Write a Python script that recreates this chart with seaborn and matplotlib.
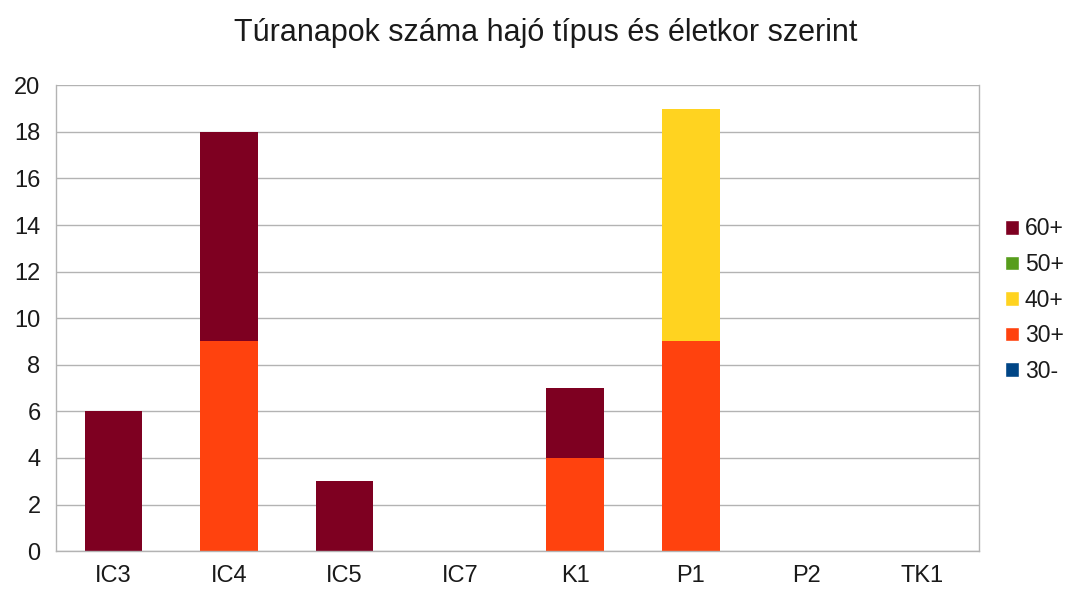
import numpy as np
import pandas as pd
import matplotlib
matplotlib.use("Agg")
import matplotlib.pyplot as plt
import seaborn as sns
from matplotlib.patches import Patch

# data
boats = ["IC3", "IC4", "IC5", "IC7", "K1", "P1", "P2", "TK1"]
age_groups = ["30-", "30+", "40+", "50+", "60+"]   # bottom -> top
days_30minus = [0, 0, 0, 0, 0, 0, 0, 0]
days_30plus = [0, 9, 0, 0, 4, 9, 0, 0]
days_40plus = [0, 0, 0, 0, 0, 10, 0, 0]
days_50plus = [0, 0, 0, 0, 0, 0, 0, 0]
days_60plus = [6, 9, 3, 0, 3, 0, 0, 0]
colors = {"30-": "#004586", "30+": "#ff420e", "40+": "#ffd320",
          "50+": "#579d1c", "60+": "#7e0021"}

series = [days_30minus, days_30plus, days_40plus, days_50plus, days_60plus]
cum = np.cumsum(np.array(series), axis=0)

sns.set_style("white")
plt.rcParams["font.family"] = ["Liberation Sans", "DejaVu Sans"]

fig = plt.figure(figsize=(10.75, 5.92), dpi=100)
ax = fig.add_axes([0.052, 0.069, 0.859, 0.787])

# draw cumulative totals from the top layer down so lower layers overlay
for i in range(len(age_groups) - 1, -1, -1):
    df = pd.DataFrame({"boat": boats, "days": cum[i]})
    sns.barplot(data=df, x="boat", y="days", order=boats, color=colors[age_groups[i]],
                width=0.5, saturation=1, linewidth=0, ax=ax)

ax.set_ylim(0, 20)
ax.set_xlim(-0.5, len(boats) - 0.5)
ax.set_yticks(range(0, 21, 2))
ax.yaxis.grid(True, color="#b3b3b3", linewidth=1)
ax.set_axisbelow(True)
ax.set_xlabel("")
ax.set_ylabel("")
for s in ax.spines.values():
    s.set_color("#b3b3b3")
    s.set_linewidth(1)
ax.spines["top"].set_visible(False)

ax.set_xticks(np.arange(-0.5, len(boats), 1.0), minor=True)
ax.tick_params(axis="x", which="minor", length=10, color="#b3b3b3", width=1)
ax.tick_params(axis="x", which="major", length=0, pad=10, labelsize=17,
               labelcolor="#1a1a1a")
ax.tick_params(axis="y", length=8, color="#b3b3b3", width=1, pad=3, labelsize=17,
               labelcolor="#1a1a1a")

fig.suptitle("Túranapok száma hajó típus és életkor szerint", x=0.508, y=0.97,
             fontsize=22, color="#1a1a1a")

handles = [Patch(facecolor=colors[g], label=g) for g in reversed(age_groups)]
fig.legend(handles=handles, loc="center left", bbox_to_anchor=(0.935, 0.493),
           frameon=False, fontsize=16.5, handlelength=0.6, handleheight=0.6,
           handletextpad=0.25, labelspacing=0.55, borderaxespad=0, borderpad=0,
           labelcolor="#1a1a1a")

fig.savefig("out.png", dpi=100)
